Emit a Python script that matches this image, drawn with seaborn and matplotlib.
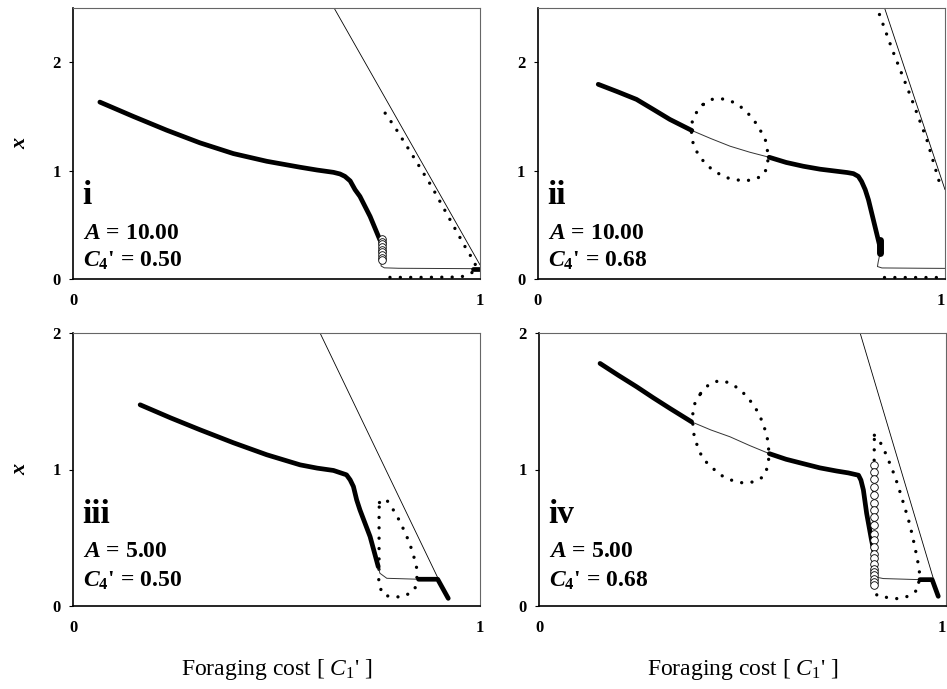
import matplotlib
matplotlib.use("Agg")
import matplotlib.pyplot as plt
import seaborn as sns

# ---------------- data (C1' on x, x on y) ----------------
# Panel i  (A = 10, C4' = 0.50)
i_stab_c = [0.066, 0.148, 0.230, 0.312, 0.394, 0.476, 0.558, 0.600, 0.640, 0.656, 0.668, 0.681, 0.693, 0.705, 0.730, 0.754]
i_stab_x = [1.632, 1.500, 1.373, 1.256, 1.157, 1.086, 1.031, 1.005, 0.984, 0.969, 0.947, 0.905, 0.824, 0.762, 0.577, 0.361]
i_circ_c = [0.758, 0.758, 0.758, 0.758, 0.758, 0.758, 0.758, 0.758, 0.758]
i_circ_x = [0.370, 0.345, 0.320, 0.295, 0.270, 0.245, 0.220, 0.195, 0.175]
i_thin_c = [0.757, 0.757, 0.765, 0.800, 0.900, 1.000]
i_thin_x = [0.170, 0.120, 0.103, 0.099, 0.097, 0.095]
i_stub_c = [0.982, 1.000]
i_stub_x = [0.095, 0.095]
i_ray_c = [0.640, 1.000]
i_ray_x = [2.510, 0.130]
i_dot_c = [0.767, 0.791, 0.836, 0.881, 0.922, 0.963, 0.988, 0.990, 0.971, 0.951, 0.850, 0.773]
i_dot_x = [1.530, 1.400, 1.130, 0.855, 0.577, 0.300, 0.145, 0.083, 0.037, 0.018, 0.015, 0.015]

# Panel ii  (A = 10, C4' = 0.68)
ii_stab1_c = [0.148, 0.195, 0.242, 0.283, 0.324, 0.378]
ii_stab1_x = [1.796, 1.728, 1.657, 1.565, 1.472, 1.370]
ii_unst_c = [0.378, 0.425, 0.472, 0.520, 0.568]
ii_unst_x = [1.370, 1.295, 1.225, 1.170, 1.123]
ii_stab2_c = [0.568, 0.610, 0.652, 0.693, 0.734, 0.760, 0.775, 0.787, 0.795, 0.804, 0.812, 0.828, 0.839]
ii_stab2_x = [1.123, 1.075, 1.040, 1.013, 0.994, 0.982, 0.972, 0.947, 0.900, 0.824, 0.730, 0.484, 0.315]
ii_blob_c = [0.840, 0.840]
ii_blob_x = [0.360, 0.240]
ii_thin_c = [0.840, 0.836, 0.834, 0.845, 0.950, 1.000]
ii_thin_x = [0.230, 0.160, 0.115, 0.102, 0.099, 0.098]
ii_ray_c = [0.851, 1.000]
ii_ray_x = [2.506, 0.824]
ii_dotup_c = [0.839, 0.871, 0.914, 0.955, 0.988]
ii_dotup_x = [2.440, 2.110, 1.700, 1.290, 0.870]
ii_dotlow_c = [0.849, 1.000]
ii_dotlow_x = [0.020, 0.020]
ii_loop_c = [0.406, 0.427, 0.449, 0.470, 0.492, 0.514, 0.532, 0.546, 0.558, 0.563, 0.565, 0.564, 0.550,
             0.528, 0.507, 0.485, 0.463, 0.441, 0.420, 0.400, 0.387, 0.379, 0.377, 0.379, 0.389, 0.406]
ii_loop_x = [1.611, 1.657, 1.664, 1.648, 1.608, 1.537, 1.457, 1.373, 1.293, 1.213, 1.120, 1.028, 0.948,
             0.917, 0.904, 0.917, 0.935, 0.978, 1.034, 1.114, 1.194, 1.278, 1.360, 1.450, 1.534, 1.611]

# Panel iii  (A = 5, C4' = 0.50)
iii_stab_c = [0.165, 0.240, 0.312, 0.394, 0.476, 0.558, 0.600, 0.640, 0.672, 0.681, 0.689, 0.697, 0.705, 0.730, 0.750]
iii_stab_x = [1.474, 1.378, 1.291, 1.196, 1.108, 1.034, 1.010, 0.993, 0.961, 0.924, 0.875, 0.777, 0.704, 0.508, 0.288]
iii_thin_c = [0.750, 0.754, 0.771, 0.849]
iii_thin_x = [0.288, 0.240, 0.203, 0.196]
iii_stub_c = [0.849, 0.896, 0.922]
iii_stub_x = [0.196, 0.196, 0.056]
iii_ray_c = [0.607, 0.898]
iii_ray_x = [2.000, 0.196]
iii_loop_c = [0.753, 0.769, 0.787, 0.802, 0.814, 0.825, 0.834, 0.841, 0.847, 0.840, 0.816, 0.790,
              0.764, 0.751, 0.752, 0.752, 0.752, 0.752, 0.752, 0.753]
iii_loop_x = [0.758, 0.785, 0.704, 0.626, 0.550, 0.475, 0.398, 0.323, 0.244, 0.122, 0.073, 0.064,
              0.079, 0.152, 0.303, 0.400, 0.500, 0.600, 0.700, 0.758]

# Panel iv  (A = 5, C4' = 0.68)
iv_stab1_c = [0.150, 0.195, 0.240, 0.281, 0.322, 0.375]
iv_stab1_x = [1.777, 1.690, 1.606, 1.525, 1.447, 1.349]
iv_unst_c = [0.375, 0.422, 0.469, 0.518, 0.566]
iv_unst_x = [1.349, 1.290, 1.240, 1.175, 1.116]
iv_stab2_c = [0.566, 0.607, 0.649, 0.690, 0.731, 0.760, 0.785, 0.791, 0.797, 0.805, 0.817, 0.824]
iv_stab2_x = [1.116, 1.075, 1.043, 1.012, 0.989, 0.975, 0.958, 0.922, 0.850, 0.679, 0.483, 0.385]
iv_circ_c = [0.824, 0.824, 0.824, 0.824, 0.824, 0.824, 0.824, 0.824, 0.824, 0.824, 0.824,
             0.824, 0.824, 0.824, 0.824, 0.824, 0.824, 0.824, 0.824, 0.824, 0.824]
iv_circ_x = [1.031, 0.982, 0.934, 0.873, 0.812, 0.751, 0.702, 0.653, 0.592, 0.531, 0.482,
             0.433, 0.384, 0.348, 0.311, 0.274, 0.250, 0.226, 0.201, 0.177, 0.152]
iv_thin_c = [0.826, 0.846, 0.936]
iv_thin_x = [0.213, 0.201, 0.193]
iv_stub_c = [0.936, 0.966, 0.981]
iv_stub_x = [0.193, 0.193, 0.071]
iv_ray_c = [0.789, 0.969]
iv_ray_x = [2.000, 0.200]
iv_dot_c = [0.824, 0.838, 0.850, 0.862, 0.875, 0.889, 0.897, 0.905, 0.912, 0.918, 0.924, 0.929,
            0.935, 0.932, 0.907, 0.880, 0.856, 0.830, 0.823, 0.823, 0.823, 0.824]
iv_dot_x = [1.251, 1.202, 1.129, 1.044, 0.946, 0.817, 0.738, 0.660, 0.587, 0.506, 0.428, 0.347,
            0.269, 0.122, 0.071, 0.054, 0.062, 0.078, 0.300, 0.600, 0.900, 1.251]
iv_loop_c = [0.397, 0.418, 0.443, 0.469, 0.496, 0.518, 0.536, 0.549, 0.557, 0.563, 0.565, 0.563, 0.551,
             0.527, 0.500, 0.473, 0.447, 0.423, 0.402, 0.389, 0.381, 0.378, 0.378, 0.383, 0.397]
iv_loop_x = [1.557, 1.625, 1.652, 1.635, 1.581, 1.508, 1.430, 1.349, 1.276, 1.202, 1.110, 1.026, 0.946,
             0.909, 0.902, 0.922, 0.958, 1.019, 1.081, 1.173, 1.251, 1.330, 1.410, 1.484, 1.557]

panel_labels = ["i", "ii", "iii", "iv"]
A_values = ["10.00", "10.00", "5.00", "5.00"]
C4_values = ["0.50", "0.68", "0.50", "0.68"]
ylims = [2.5, 2.5, 2.0, 2.0]
yticks = [0, 1, 2]
xticks = [0, 1]

# ---------------- style ----------------
sns.set_theme(style="white")
plt.rcParams["font.family"] = ["Liberation Serif", "DejaVu Serif"]
for key in ("text.color", "axes.labelcolor", "xtick.color", "ytick.color"):
    plt.rcParams[key] = "black"
plt.rcParams["mathtext.fontset"] = "custom"
plt.rcParams["mathtext.rm"] = "Liberation Serif"
plt.rcParams["mathtext.it"] = "Liberation Serif:italic"
plt.rcParams["mathtext.bf"] = "Liberation Serif:bold"
try:
    plt.rcParams["mathtext.bfit"] = "Liberation Serif:italic:bold"
    BFIT = r"\mathbfit"
except Exception:
    BFIT = r"\mathit"

W, H = 947, 689
fig = plt.figure(figsize=(W / 100, H / 100), dpi=100)

# axes boxes in pixels: left, right, top, bottom
boxes = [(73, 480, 8, 279), (538, 945, 8, 279), (73, 480, 333, 606), (539, 946, 333, 606)]
axes = []
for (l, r, t, b) in boxes:
    axes.append(fig.add_axes([l / W, 1 - b / H, (r - l) / W, (b - t) / H]))

THICK = 3.4
THIN = 0.7
DOT_LW = 2.4
DOT_LS = (0, (0.01, 3.1))


def line(ax, c, x, lw, color="black", **kw):
    sns.lineplot(x=c, y=x, ax=ax, sort=False, estimator=None, color=color, lw=lw,
                 solid_joinstyle="round", **kw)


def dots(ax, c, x):
    sns.lineplot(x=c, y=x, ax=ax, sort=False, estimator=None, color="black", lw=DOT_LW,
                 linestyle=DOT_LS, dash_capstyle="round", clip_on=False)


def circles(ax, c, x):
    sns.scatterplot(x=c, y=x, ax=ax, marker="o", s=30, facecolor="white",
                    edgecolor="black", linewidth=0.6, zorder=4, clip_on=False)


# Panel i
ax = axes[0]
line(ax, i_ray_c, i_ray_x, 0.6)
dots(ax, i_dot_c, i_dot_x)
line(ax, i_thin_c, i_thin_x, THIN, color="#333333")
line(ax, i_stab_c, i_stab_x, THICK)
line(ax, i_stub_c, i_stub_x, THICK)
circles(ax, i_circ_c, i_circ_x)

# Panel ii
ax = axes[1]
line(ax, ii_ray_c, ii_ray_x, 0.6)
dots(ax, ii_dotup_c, ii_dotup_x)
dots(ax, ii_dotlow_c, ii_dotlow_x)
dots(ax, ii_loop_c, ii_loop_x)
line(ax, ii_unst_c, ii_unst_x, THIN, color="#333333")
line(ax, ii_thin_c, ii_thin_x, THIN, color="#333333")
line(ax, ii_stab1_c, ii_stab1_x, THICK)
line(ax, ii_stab2_c, ii_stab2_x, THICK)
line(ax, ii_blob_c, ii_blob_x, 5.0, solid_capstyle="round")

# Panel iii
ax = axes[2]
line(ax, iii_ray_c, iii_ray_x, 0.6)
dots(ax, iii_loop_c, iii_loop_x)
line(ax, iii_thin_c, iii_thin_x, THIN, color="#333333")
line(ax, iii_stab_c, iii_stab_x, THICK)
line(ax, iii_stub_c, iii_stub_x, THICK)

# Panel iv
ax = axes[3]
line(ax, iv_ray_c, iv_ray_x, 0.6)
dots(ax, iv_dot_c, iv_dot_x)
dots(ax, iv_loop_c, iv_loop_x)
line(ax, iv_unst_c, iv_unst_x, THIN, color="#333333")
line(ax, iv_thin_c, iv_thin_x, THIN, color="#333333")
line(ax, iv_stab1_c, iv_stab1_x, THICK)
line(ax, iv_stab2_c, iv_stab2_x, THICK)
line(ax, iv_stub_c, iv_stub_x, THICK)
circles(ax, iv_circ_c, iv_circ_x)

# ---------------- axes decoration ----------------
for k, ax in enumerate(axes):
    l, r, t, b = boxes[k]
    ax.set_xlim(0, 1)
    ax.set_ylim(0, ylims[k])
    ax.set_xticks(xticks)
    ax.set_xticklabels([str(v) for v in xticks])
    ax.set_yticks(yticks)
    ax.set_yticklabels([str(v) for v in yticks])
    ax.tick_params(axis="x", length=0, pad=10, labelsize=12)
    ax.tick_params(axis="y", left=True, length=3, width=0.8, direction="out", pad=6, labelsize=12)
    for lab in ax.get_xticklabels() + ax.get_yticklabels():
        lab.set_fontweight("bold")
    if k % 2 == 1:
        # keep the right-edge "1" inside the figure
        ax.get_xticklabels()[-1].set_horizontalalignment("right")
    for s in ("left", "bottom"):
        ax.spines[s].set_color("black")
        ax.spines[s].set_linewidth(1.2)
    for s in ("top", "right"):
        ax.spines[s].set_color("#666666")
        ax.spines[s].set_linewidth(0.8)
    ax.set_xlabel("")
    ax.set_ylabel("")

    top_row = k < 2
    offs = (75, 40, 12) if top_row else (83, 49, 19)
    ax.annotate(panel_labels[k], xy=(0, 0), xycoords="axes fraction", xytext=(9, offs[0]),
                textcoords="offset pixels", fontsize=24, fontweight="bold", ha="left", va="baseline")
    ax.annotate(r"$" + BFIT + r"{A}$ = " + A_values[k], xy=(0, 0), xycoords="axes fraction",
                xytext=(10, offs[1]), textcoords="offset pixels", fontsize=17, fontweight="bold",
                ha="left", va="baseline")
    ax.annotate(r"$" + BFIT + r"{C}_{\mathbf{4}}$' = " + C4_values[k], xy=(0, 0), xycoords="axes fraction",
                xytext=(10, offs[2]), textcoords="offset pixels", fontsize=17, fontweight="bold",
                ha="left", va="baseline")

    if k % 2 == 0:
        ax.set_ylabel("x", fontsize=16, fontstyle="italic", fontweight="bold", rotation=90,
                      va="center", ha="center")
        ax.yaxis.set_label_coords((20 - l) / (r - l), 0.5)
    if not top_row:
        ax.set_xlabel(r"Foraging cost [ $\mathit{C}_{\mathrm{1}}$' ]", fontsize=17, va="center")
        ax.xaxis.set_label_coords(0.5, -(670 - b) / (b - t))

fig.savefig("out.png", dpi=100)
